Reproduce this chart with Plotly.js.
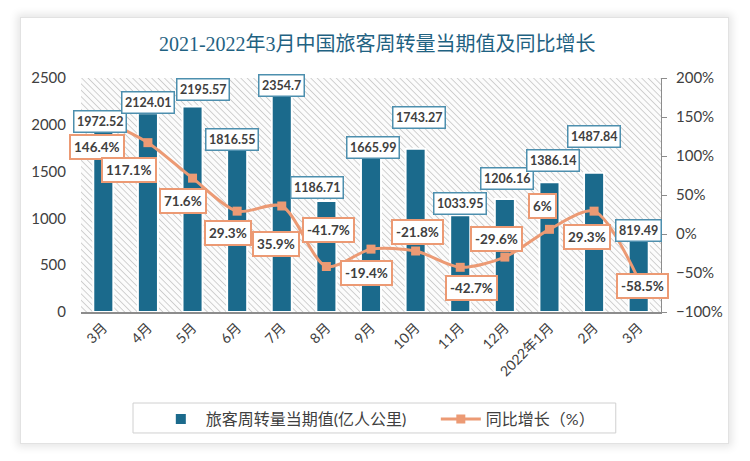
<!DOCTYPE html>
<html>
<head>
<meta charset="utf-8">
<script src="https://cdn.plot.ly/plotly-3.0.1.min.js"></script>
<style>
  html, body { margin: 0; padding: 0; background: #ffffff; }
  #wrap { position: relative; width: 750px; height: 461px; overflow: hidden; }
  #card { position: absolute; left: 20px; top: 17px; width: 707px; height: 425px;
          background: #fff; border: 1px solid #e2e2e2;
          box-shadow: 0 0 8px 3px rgba(0,0,0,0.10); }
  #chart { position: absolute; left: 0; top: 0; width: 750px; height: 461px; }
</style>
</head>
<body>
<div id="wrap">
  <div id="card"></div>
  <div id="chart"></div>
</div>
<script>
// ---- data ----
const months = ["3月","4月","5月","6月","7月","8月","9月","10月","11月","12月","2022年1月","2月","3月"];
const turnover = [1972.52, 2124.01, 2195.57, 1816.55, 2354.7, 1186.71, 1665.99, 1743.27, 1033.95, 1206.16, 1386.14, 1487.84, 819.49];
const growth = [146.4, 117.1, 71.6, 29.3, 35.9, -41.7, -19.4, -21.8, -42.7, -29.6, 6, 29.3, -58.5];
const growthText = ["146.4%","117.1%","71.6%","29.3%","35.9%","-41.7%","-19.4%","-21.8%","-42.7%","-29.6%","6%","29.3%","-58.5%"];
const barName = "旅客周转量当期值(亿人公里)";
const lineName = "同比增长（%）";
const titleText = "2021-2022年3月中国旅客周转量当期值及同比增长";

// label placement offsets in pixels (style only, not data): [dx, dy] with dy positive = downwards
const barLabelOffset = [[-3,-6],[0,-11],[10,-17],[-5,-2],[0,-6],[-9,-13],[2,-9],[3,-31],[0,-12],[2,-21],[4,-22],[0,-36],[0,-5]];
const pctLabelOffset = [[-6,27],[-19,27],[-10,23],[-9,22],[-6,38],[2,-37],[-5,24],[2,-19],[11,21],[-8,-18],[-7,-23],[-7,26],[4,6]];

const idx = months.map((_, i) => i);
const BLUE = "#1b6a8c";
const ORANGE = "#ec9a74";
const FONT = "Lato, 'Noto Sans CJK SC', sans-serif";

const hatch = "data:image/svg+xml;utf8," + encodeURIComponent(
  "<svg xmlns='http://www.w3.org/2000/svg' width='580' height='234'>" +
  "<defs><pattern id='p' width='4.5' height='4.5' patternUnits='userSpaceOnUse' patternTransform='rotate(-45)'>" +
  "<rect width='4.5' height='4.5' fill='#fcfcfc'/><line x1='0' y1='0' x2='0' y2='4.5' stroke='#cdcdcd' stroke-width='1.8'/></pattern></defs>" +
  "<rect width='580' height='234' fill='url(#p)'/></svg>");

const traces = [
  {
    type: "bar", x: idx, y: turnover, name: barName,
    marker: { color: BLUE, line: { color: "#ffffff", width: 2 } },
    width: 0.45, hoverinfo: "skip"
  },
  {
    type: "scatter", mode: "lines+markers", x: idx, y: growth, yaxis: "y2", name: lineName,
    line: { color: ORANGE, width: 3, shape: "spline", smoothing: 0.8 },
    marker: { symbol: "square", size: 9, color: ORANGE },
    hoverinfo: "skip"
  }
];

const annotations = [];
idx.forEach(i => {
  annotations.push({
    x: i, y: turnover[i], xref: "x", yref: "y",
    text: "<b>" + turnover[i] + "</b>", showarrow: false,
    xanchor: "center", yanchor: "middle",
    xshift: barLabelOffset[i][0], yshift: -barLabelOffset[i][1],
    font: { family: FONT, size: 12.5, color: "#404040" },
    bgcolor: "#ffffff", bordercolor: "#4d8fae", borderwidth: 1.5, borderpad: 2.5
  });
  annotations.push({
    x: i, y: growth[i], xref: "x", yref: "y2",
    text: "<b>" + growthText[i] + "</b>", showarrow: false,
    xanchor: "center", yanchor: "middle",
    xshift: pctLabelOffset[i][0], yshift: -pctLabelOffset[i][1],
    font: { family: FONT, size: 13.5, color: "#404040" },
    bgcolor: "#ffffff", bordercolor: ORANGE, borderwidth: 2, borderpad: 3
  });
});

const layout = {
  width: 750, height: 461,
  margin: { l: 81, r: 89, t: 78, b: 149 },
  paper_bgcolor: "rgba(0,0,0,0)",
  plot_bgcolor: "rgba(0,0,0,0)",
  font: { family: FONT, color: "#404040" },
  title: {
    text: titleText, x: 0.503, xref: "container", y: 0.905, yref: "container",
    xanchor: "center", yanchor: "middle",
    font: { family: "'Liberation Serif', 'Noto Sans CJK SC', serif", size: 20, color: "#1f6282" }
  },
  showlegend: true,
  legend: {
    orientation: "h", x: 0.129, xanchor: "left", y: -0.385, yanchor: "top",
    borderwidth: 0, bgcolor: "rgba(0,0,0,0)",
    font: { family: FONT, size: 16, color: "#404040" },
    itemwidth: 40, entrywidth: 225, tracegroupgap: 0
  },
  shapes: [{
    type: "rect", xref: "paper", yref: "paper",
    x0: 0.0897, x1: 0.922, y0: -0.517, y1: -0.389,
    line: { color: "#d0d0d0", width: 1 }, fillcolor: "#ffffff", layer: "below"
  }],
  xaxis: {
    range: [-0.5, 12.5], tickvals: idx, ticktext: months, tickangle: -45,
    showgrid: false, zeroline: false, showline: true, linecolor: "#8c8c8c", linewidth: 2,
    ticks: "", tickfont: { family: FONT, size: 14, color: "#404040" }
  },
  yaxis: {
    range: [0, 2500], dtick: 500, showgrid: false, zeroline: false, showline: false,
    ticks: "", ticklabelstandoff: 14,
    tickfont: { family: FONT, size: 15, color: "#404040" }
  },
  yaxis2: {
    overlaying: "y", side: "right", range: [-100, 200], dtick: 50, ticksuffix: "%",
    showgrid: false, zeroline: false, showline: true, linecolor: "#8c8c8c", linewidth: 1,
    ticks: "outside", ticklen: 5, tickcolor: "#8c8c8c", ticklabelstandoff: 6,
    tickfont: { family: FONT, size: 15, color: "#404040" }
  },
  images: [{
    source: hatch, xref: "paper", yref: "paper", x: 0, y: 1, sizex: 1, sizey: 1,
    xanchor: "left", yanchor: "top", sizing: "stretch", layer: "below"
  }],
  annotations: annotations,
  bargap: 0.6
};

Plotly.newPlot("chart", traces, layout, { displayModeBar: false, staticPlot: true });
</script>
</body>
</html>
